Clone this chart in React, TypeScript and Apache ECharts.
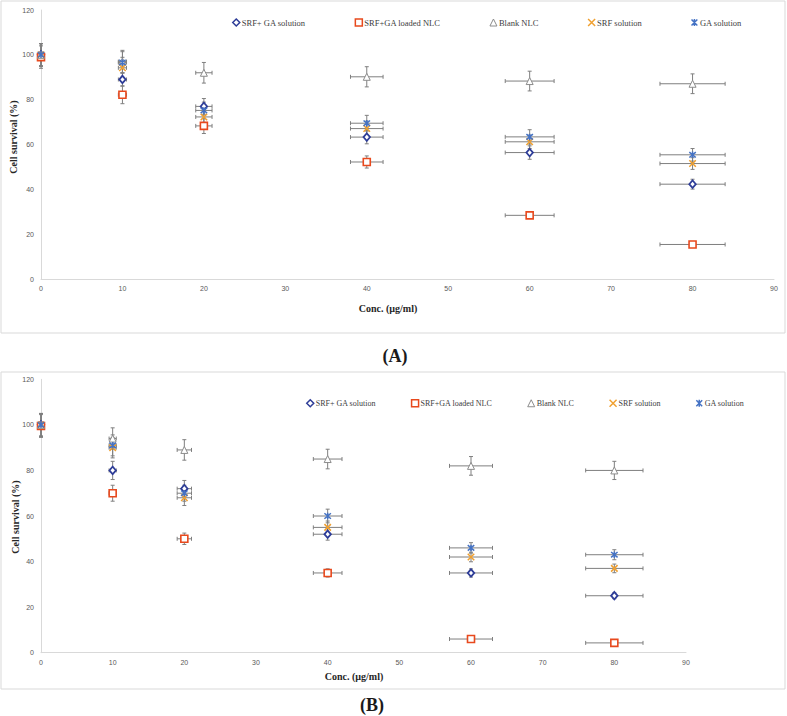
import React, { useEffect, useRef } from "react";
import * as echarts from "echarts";

// ---- data ----
const concentrations = [0, 10, 20, 40, 60, 80];
const concErr = [0, 0.5, 1, 2, 3, 4];
const seriesNames = ["SRF+ GA solution", "SRF+GA loaded NLC", "Blank NLC", "SRF solution", "GA solution"];

// Panel A
const srfGaSolA = [100, 89, 77, 63.3, 56.4, 42.3];
const srfGaSolErrA = [5, 3, 3.5, 3, 3, 2.2];
const nlcA = [99, 82.2, 68.3, 52.2, 28.4, 15.4];
const nlcErrA = [5, 4, 3.4, 2.7, 1.4, 0.8];
const blankA = [100, 97, 92, 90.2, 88.3, 87.1];
const blankErrA = [5, 5, 4.6, 4.5, 4.4, 4.4];
const srfA = [100, 94.2, 72.3, 67.1, 61.2, 51.5];
const srfErrA = [5, 4.7, 3.6, 3.3, 3, 2.6];
const gaA = [100, 96.6, 75.2, 69.5, 63.4, 55.4];
const gaErrA = [5, 4.8, 3.7, 3.5, 3.2, 2.8];

// Panel B
const srfGaSolB = [100, 80, 72, 52, 35, 25];
const srfGaSolErrB = [5, 4, 3.6, 2.6, 1.8, 1.3];
const nlcB = [99.5, 70, 50, 35, 6, 4.3];
const nlcErrB = [5, 3.5, 2.5, 1.8, 0.3, 0.2];
const blankB = [100, 94, 89, 85, 82, 80];
const blankErrB = [5, 4.7, 4.5, 4.3, 4.1, 4];
const srfB = [100, 90, 68, 55, 42, 37];
const srfErrB = [5, 4.5, 3.4, 2.8, 2.1, 1.9];
const gaB = [100, 91, 70, 60, 46, 43];
const gaErrB = [5, 4.6, 3.5, 3, 2.3, 2.2];

const yTicks = { min: 0, max: 120, interval: 20 };
const xTicks = { min: 0, max: 90, interval: 10 };

// ---- styles ----
const XMARK = "path://M0,0L10,10M10,0L0,10";
const STAR = "path://M0,0L10,10M10,0L0,10M5,-1L5,11";
const styles = [
  { symbol: "diamond", size: [6.5, 7.5], fill: "#ffffff", stroke: "#2E3D98", bw: 1.8 },
  { symbol: "rect", size: 7, fill: "#ffffff", stroke: "#E8491D", bw: 1.6 },
  { symbol: "triangle", size: 7, fill: "#ffffff", stroke: "#8C8C8C", bw: 1 },
  { symbol: XMARK, size: 6.5, fill: "rgba(0,0,0,0)", stroke: "#F0A030", bw: 1.5 },
  { symbol: STAR, size: 6.5, fill: "rgba(0,0,0,0)", stroke: "#4472C4", bw: 1.5 },
];

export default function App() {
  const ref = useRef<HTMLDivElement>(null);
  useEffect(() => {
    document.body.style.margin = "0";
    if (!ref.current) return;
    const chart = echarts.init(ref.current, undefined, { renderer: "svg" });

    const panels = [
      { vals: [srfGaSolA, nlcA, blankA, srfA, gaA], errs: [srfGaSolErrA, nlcErrA, blankErrA, srfErrA, gaErrA] },
      { vals: [srfGaSolB, nlcB, blankB, srfB, gaB], errs: [srfGaSolErrB, nlcErrB, blankErrB, srfErrB, gaErrB] },
    ];

    const series: any[] = [];
    panels.forEach((p, pi) => {
      const errData: number[][] = [];
      p.vals.forEach((vals, si) => {
        vals.forEach((v, i) => errData.push([concentrations[i], v, concErr[i], p.errs[si][i]]));
      });
      series.push({
        type: "custom",
        xAxisIndex: pi,
        yAxisIndex: pi,
        z: 1,
        silent: true,
        clip: false,
        encode: { x: 0, y: 1 },
        data: errData,
        renderItem: (params: any, api: any) => {
          const x = api.value(0), y = api.value(1), ex = api.value(2), ey = api.value(3);
          const c = api.coord([x, y]);
          const st = { stroke: "#7F7F7F", lineWidth: 1 };
          const ch: any[] = [];
          const cap = 2;
          if (ey > 0) {
            const t = api.coord([x, y + ey])[1];
            const b = api.coord([x, y - ey])[1];
            ch.push({ type: "line", shape: { x1: c[0], y1: t, x2: c[0], y2: b }, style: st });
            ch.push({ type: "line", shape: { x1: c[0] - cap, y1: t, x2: c[0] + cap, y2: t }, style: st });
            ch.push({ type: "line", shape: { x1: c[0] - cap, y1: b, x2: c[0] + cap, y2: b }, style: st });
          }
          if (ex > 0) {
            const l = api.coord([x - ex, y])[0];
            const r = api.coord([x + ex, y])[0];
            ch.push({ type: "line", shape: { x1: l, y1: c[1], x2: r, y2: c[1] }, style: st });
            ch.push({ type: "line", shape: { x1: l, y1: c[1] - cap, x2: l, y2: c[1] + cap }, style: st });
            ch.push({ type: "line", shape: { x1: r, y1: c[1] - cap, x2: r, y2: c[1] + cap }, style: st });
          }
          return { type: "group", children: ch };
        },
      });
      p.vals.forEach((vals, si) => {
        const s = styles[si];
        series.push({
          type: "scatter",
          name: seriesNames[si],
          xAxisIndex: pi,
          yAxisIndex: pi,
          z: 3 + si,
          symbol: s.symbol,
          symbolSize: s.size,
          itemStyle: { color: s.fill, borderColor: s.stroke, borderWidth: s.bw, opacity: 1 },
          data: vals.map((v, i) => [concentrations[i], v]),
        });
      });
    });

    const axisLine = { show: true, lineStyle: { color: "#D9D9D9", width: 1 } };
    const tickLabel = { color: "#595959", fontSize: 7, fontFamily: "Liberation Sans" };
    const xAxis = (gi: number) => ({
      type: "value", gridIndex: gi, ...xTicks,
      axisLine, axisTick: { show: false }, splitLine: { show: false },
      axisLabel: { ...tickLabel, margin: 6 },
    });
    const yAxis = (gi: number) => ({
      type: "value", gridIndex: gi, ...yTicks,
      axisLine, axisTick: { show: false }, splitLine: { show: false },
      axisLabel: { ...tickLabel, margin: 7 },
    });

    const legendData = seriesNames.map((n, i) => ({
      name: n,
      icon: styles[i].symbol,
      itemStyle: { color: styles[i].fill, borderColor: styles[i].stroke, borderWidth: i === 2 ? 1 : 1.5 },
    }));
    const legendBase = {
      orient: "horizontal",
      itemWidth: 7,
      itemHeight: 7,
      selectedMode: false,
      padding: 0,
    };

    chart.setOption({
      animation: false,
      backgroundColor: "#ffffff",
      grid: [
        { left: 41, top: 10, width: 733, height: 269, containLabel: false },
        { left: 41, top: 379.3, width: 645, height: 273.4, containLabel: false },
      ],
      xAxis: [xAxis(0), xAxis(1)],
      yAxis: [yAxis(0), yAxis(1)],
      legend: [
        { ...legendBase, data: legendData, left: 232, top: 18, itemGap: 49,
          textStyle: { fontFamily: "Liberation Serif", fontSize: 8.5, color: "#404040", padding: [0, 0, 0, -3] } },
        { ...legendBase, data: legendData, left: 306, top: 399, itemGap: 35,
          textStyle: { fontFamily: "Liberation Serif", fontSize: 8, color: "#404040", padding: [0, 0, 0, -3] } },
      ],
      graphic: [
        { type: "rect", shape: { x: 1, y: 1, width: 784, height: 332 }, style: { fill: "none", stroke: "#D9D9D9", lineWidth: 1 }, silent: true, z: -1 },
        { type: "rect", shape: { x: 1, y: 372, width: 784, height: 317 }, style: { fill: "none", stroke: "#D9D9D9", lineWidth: 1 }, silent: true, z: -1 },
        { type: "text", x: 13, y: 137, rotation: Math.PI / 2, style: { text: "Cell survival (%)", fontFamily: "Liberation Serif", fontWeight: "bold", fontSize: 10, fill: "#262626", align: "center", verticalAlign: "middle" } },
        { type: "text", x: 15, y: 517, rotation: Math.PI / 2, style: { text: "Cell survival (%)", fontFamily: "Liberation Serif", fontWeight: "bold", fontSize: 10, fill: "#262626", align: "center", verticalAlign: "middle" } },
        { type: "text", x: 388, y: 308, style: { text: "Conc. (µg/ml)", fontFamily: "Liberation Serif", fontWeight: "bold", fontSize: 10, fill: "#262626", align: "center", verticalAlign: "middle" } },
        { type: "text", x: 354, y: 676, style: { text: "Conc. (µg/ml)", fontFamily: "Liberation Serif", fontWeight: "bold", fontSize: 10, fill: "#262626", align: "center", verticalAlign: "middle" } },
        { type: "text", x: 395, y: 356, style: { text: "(A)", fontFamily: "Liberation Serif", fontWeight: "bold", fontSize: 18, fill: "#1a1a1a", align: "center", verticalAlign: "middle" } },
        { type: "text", x: 372, y: 705, style: { text: "(B)", fontFamily: "Liberation Serif", fontWeight: "bold", fontSize: 18, fill: "#1a1a1a", align: "center", verticalAlign: "middle" } },
      ],
      series,
    });
    return () => chart.dispose();
  }, []);
  return <div ref={ref} style={{ width: 787, height: 716 }} />;
}
